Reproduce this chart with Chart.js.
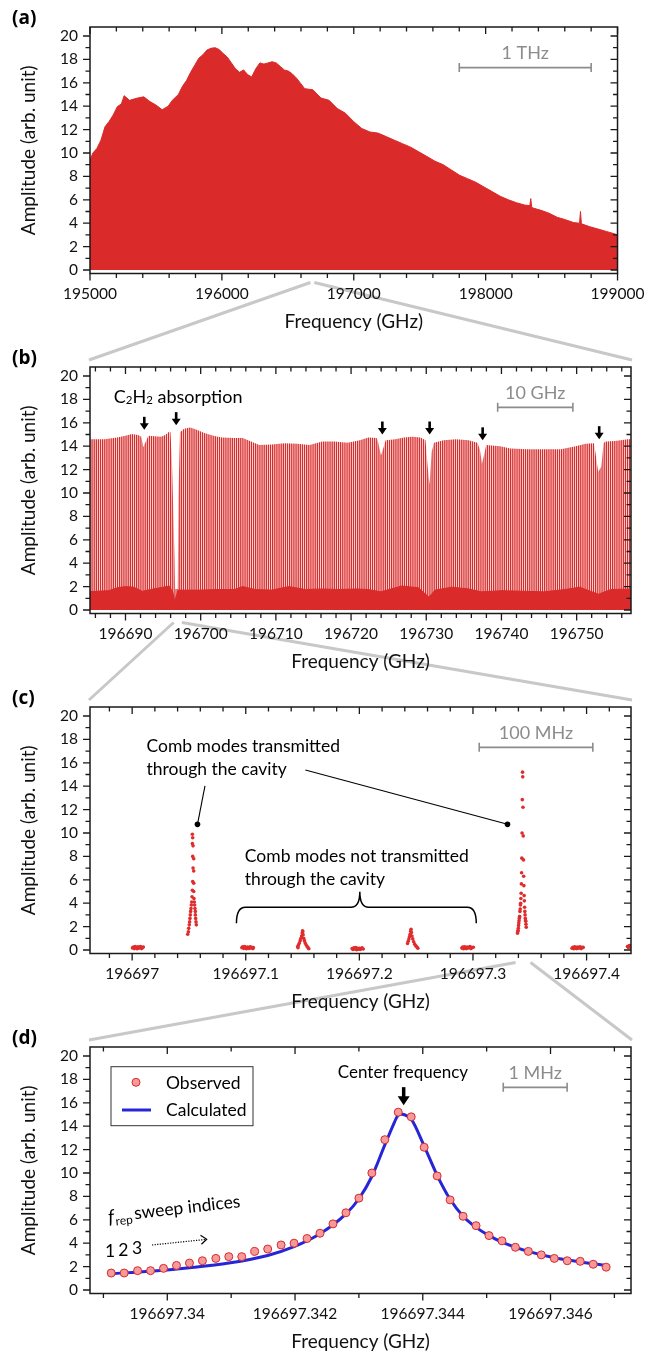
<!DOCTYPE html>
<html>
<head>
<meta charset="utf-8">
<script src="https://cdn.jsdelivr.net/npm/chart.js@4.4.1/dist/chart.umd.min.js"></script>
<style>
  html, body { margin: 0; padding: 0; background: #fff; }
  body { position: relative; width: 656px; height: 1357px; overflow: hidden; }
  canvas { display: block; }
  #links { position: absolute; left: 0; top: 0; }
  .panel { position: absolute; left: 0; width: 656px; height: 340px; }
</style>
</head>
<body>
<canvas id="links" width="656" height="1357"></canvas>
<div class="panel" style="top:0px"><canvas id="chartA" width="656" height="340"></canvas></div>
<div class="panel" style="top:340px"><canvas id="chartB" width="656" height="340"></canvas></div>
<div class="panel" style="top:680px"><canvas id="chartC" width="656" height="340"></canvas></div>
<div class="panel" style="top:1020px"><canvas id="chartD" width="656" height="340"></canvas></div>
<script>
const FONT = "Lato, 'Open Sans', sans-serif";
const BOLD_FONT = "'Open Sans', 'Liberation Sans', sans-serif";
const RED = "#da2a2a";
const GRAY = "#8c8c8c";

// ---- shared y axis
const yTicks = [0, 2, 4, 6, 8, 10, 12, 14, 16, 18, 20];
const yLabels = ["0", "2", "4", "6", "8", "10", "12", "14", "16", "18", "20"];

// ---- (a) full comb spectrum, envelope of the comb lines
const aTicks = [195000, 196000, 197000, 198000, 199000];
const aLabels = ["195000", "196000", "197000", "198000", "199000"];
const aFreq = [195000, 195022, 195053, 195083, 195114, 195145, 195176, 195207, 195238, 195259,
  195300, 195361, 195408, 195454, 195500, 195547, 195593, 195624, 195670, 195701,
  195732, 195763, 195794, 195825, 195856, 195887, 195917, 195948, 195979, 196010,
  196041, 196072, 196103, 196134, 196165, 196195, 196226, 196257, 196288, 196319,
  196350, 196381, 196412, 196443, 196473, 196504, 196535, 196566, 196597, 196628,
  196690, 196751, 196813, 196875, 196937, 196998, 197060, 197122, 197184, 197246,
  197307, 197369, 197431, 197493, 197555, 197616, 197678, 197740, 197802, 197864,
  197925, 197987, 198049, 198111, 198172, 198234, 198296, 198335, 198342, 198349,
  198358, 198420, 198481, 198543, 198605, 198667, 198712, 198719, 198726, 198790,
  198852, 198914, 198975, 199000];
const aAmp = [9.4, 10.0, 10.4, 11.1, 12.25, 12.7, 13.25, 13.96, 14.2, 14.9,
  14.5, 14.7, 14.8, 14.4, 14.1, 13.7, 14.0, 14.5, 15.0, 15.7,
  16.2, 16.9, 17.5, 18.1, 18.4, 18.8, 18.95, 19.0, 18.85, 18.5,
  18.2, 17.7, 17.2, 16.9, 17.1, 16.7, 16.5, 17.2, 17.7, 17.6,
  17.7, 17.8, 17.7, 17.4, 17.1, 17.0, 16.75, 16.4, 15.95, 15.5,
  15.4, 14.7, 14.5, 13.8, 13.4, 12.7, 12.1, 11.8, 11.7, 11.4,
  11.1, 10.8, 10.5, 10.1, 9.7, 9.3, 9.0, 8.55, 8.1, 7.8,
  7.5, 7.1, 6.7, 6.3, 6.0, 5.75, 5.55, 5.5, 6.1, 5.4,
  5.3, 5.1, 4.85, 4.5, 4.3, 4.05, 4.0, 5.0, 3.95, 3.7,
  3.5, 3.3, 3.1, 3.0];

// ---- (b) 72 GHz section: transmitted-mode envelope + untransmitted band
const bTicks = [196690, 196700, 196710, 196720, 196730, 196740, 196750];
const bLabels = ["196690", "196700", "196710", "196720", "196730", "196740", "196750"];
const bFreq = [196685.28, 196687.22, 196688.89, 196690.0, 196690.83, 196691.67, 196692.1, 196692.37, 196692.63, 196693.06,
  196693.9, 196694.73, 196695.29, 196695.84, 196695.98, 196696.18, 196696.52, 196696.6, 196696.95, 196697.05,
  196697.25, 196697.79, 196698.63, 196699.46, 196700.58, 196701.69, 196702.8, 196704.47, 196705.58, 196706.7,
  196707.81, 196709.48, 196711.15, 196712.82, 196714.49, 196716.16, 196717.83, 196719.5, 196721.17, 196722.28,
  196723.4, 196723.62, 196723.98, 196724.28, 196724.6, 196725.9, 196727.01, 196728.13, 196729.24, 196729.9,
  196730.19, 196730.43, 196730.72, 196731.03, 196732.3, 196733.97, 196735.64, 196736.8, 196737.14, 196737.41,
  196737.67, 196737.98, 196739.82, 196741.21, 196743.43, 196745.66, 196747.89, 196749.55, 196751.22, 196752.32,
  196752.87, 196753.27, 196753.6, 196753.9, 196755.12, 196756.79, 196757.23];
const bAmp = [14.6, 14.6, 14.75, 14.9, 15.05, 14.95, 14.8, 13.9, 14.3, 14.9,
  14.85, 14.8, 14.95, 15.25, 15.2, 12.7, 4.5, 1.8, 1.8, 10.0,
  15.2, 15.5, 15.6, 15.4, 15.1, 14.9, 14.75, 14.7, 14.7, 14.4,
  14.1, 14.15, 14.25, 14.2, 14.1, 14.4, 14.4, 14.3, 14.5, 14.75,
  14.7, 14.3, 13.2, 13.8, 14.5, 14.6, 14.75, 14.8, 14.75, 14.5,
  12.25, 10.7, 13.5, 14.3, 14.5, 14.6, 14.5, 14.3, 13.7, 12.5,
  13.2, 14.1, 14.0, 13.8, 13.75, 13.75, 13.75, 13.95, 14.2, 14.25,
  11.8, 12.25, 14.3, 14.4, 14.45, 14.6, 14.6];
const bBandFreq = [196685.28, 196687.77, 196688.89, 196690.0, 196691.11, 196692.23, 196693.34, 196695.01, 196695.84, 196696.3,
  196696.55, 196696.75, 196697.0, 196697.79, 196700.02, 196702.25, 196704.47, 196705.58, 196707.26, 196709.48,
  196711.71, 196713.94, 196716.16, 196718.39, 196720.61, 196722.28, 196723.95, 196726.74, 196728.96, 196730.35,
  196731.19, 196733.42, 196735.64, 196737.31, 196740.1, 196742.88, 196745.66, 196748.44, 196750.39, 196752.9,
  196754.57, 196757.23];
const bBandAmp = [1.57, 1.65, 1.9, 2.0, 1.95, 1.6, 1.75, 1.95, 2.05, 1.5,
  0.7, 1.2, 1.7, 1.7, 1.7, 1.75, 1.75, 2.0, 1.75, 1.7,
  2.0, 1.75, 1.8, 1.75, 1.8, 1.75, 1.55, 2.05, 1.9, 1.1,
  1.7, 1.95, 1.8, 1.55, 1.65, 1.6, 1.55, 1.75, 1.95, 1.35,
  1.75, 1.8];
const bAbsFreq = [196692.5, 196696.74, 196724.16, 196730.45, 196737.5, 196753.0];
const bAbsTip = [15.4, 15.8, 15.0, 15.0, 14.5, 14.6];

// ---- (d) one cavity mode: f_rep sweep points and fitted profile
const dTicks = [196697.34, 196697.342, 196697.344, 196697.346];
const dLabels = ["196697.34", "196697.342", "196697.344", "196697.346"];
const dObsX = [196697.339122, 196697.339325, 196697.339535, 196697.339738, 196697.339941, 196697.340144, 196697.340347, 196697.34055,
  196697.34076, 196697.340963, 196697.341166, 196697.341369, 196697.341572, 196697.341782, 196697.341985, 196697.342188,
  196697.342391, 196697.342594, 196697.342797, 196697.343, 196697.343203, 196697.343406, 196697.343616, 196697.343819,
  196697.344022, 196697.344225, 196697.344428, 196697.344631, 196697.344834, 196697.345037, 196697.34524, 196697.34545,
  196697.345653, 196697.345856, 196697.346059, 196697.346262, 196697.346465, 196697.346668, 196697.346871];
const dObsY = [1.45, 1.45, 1.65, 1.65, 1.85, 2.1, 2.3, 2.5,
  2.7, 2.85, 2.85, 3.3, 3.5, 3.85, 4.0, 4.4,
  4.85, 5.65, 6.6, 7.85, 10.0, 12.85, 15.2, 14.8,
  12.2, 9.75, 7.7, 6.3, 5.5, 4.65, 4.2, 3.65,
  3.3, 3.0, 2.7, 2.5, 2.45, 2.2, 1.95];
const dCalcX = [196697.339122, 196697.339738, 196697.340347, 196697.340963, 196697.341572, 196697.341985, 196697.342391,
  196697.342797, 196697.343, 196697.343203, 196697.343406, 196697.343537, 196697.343603, 196697.343648, 196697.343701,
  196697.343819, 196697.344022, 196697.344225, 196697.344428, 196697.344631, 196697.344834, 196697.345037, 196697.34524,
  196697.345653, 196697.346059, 196697.346465, 196697.346871];
const dCalcY = [1.4, 1.6, 1.9, 2.3, 2.95, 3.7, 4.8,
  6.5, 7.8, 9.7, 12.4, 14.1, 14.85, 15.05, 15.0,
  14.6, 12.3, 9.8, 7.75, 6.3, 5.35, 4.65, 4.1,
  3.3, 2.75, 2.4, 2.1];

// ---- (c) 0.48 GHz section: comb modes (GHz, amplitude)
const cTicks = [196697, 196697.1, 196697.2, 196697.3, 196697.4];
const cLabels = ["196697", "196697.1", "196697.2", "196697.3", "196697.4"];
const cFlat0 = [[196697.0003, 0.18], [196697.0011, 0.26], [196697.0019, 0.12], [196697.0027, 0.3], [196697.0035, 0.2], [196697.0043, 0.1],
  [196697.0051, 0.27], [196697.0059, 0.15], [196697.0067, 0.22], [196697.0075, 0.3], [196697.0083, 0.12], [196697.0091, 0.2], [196697.0098, 0.26]];
const cPeakLow = [[196697.0530, 9.89], [196697.0533, 9.6], [196697.0530, 9.1], [196697.0536, 8.9], [196697.0533, 8.0], [196697.0542, 7.8],
  [196697.0536, 7.0], [196697.0542, 6.75], [196697.0533, 5.85], [196697.0542, 5.7], [196697.0530, 5.1], [196697.0542, 5.0],
  [196697.0527, 4.55], [196697.0544, 4.4], [196697.0524, 4.1], [196697.0521, 3.85], [196697.0518, 3.55], [196697.0515, 3.3],
  [196697.0512, 3.0], [196697.0509, 2.7], [196697.0506, 2.4], [196697.0503, 2.15], [196697.0498, 1.85], [196697.0495, 1.55],
  [196697.0489, 1.35], [196697.0547, 4.1], [196697.0550, 3.85], [196697.0553, 3.55], [196697.0556, 3.3], [196697.0556, 3.0],
  [196697.0559, 2.7], [196697.0562, 2.4], [196697.0565, 2.15]];
const cFlat1 = [[196697.0966, 0.2], [196697.0974, 0.28], [196697.0982, 0.14], [196697.0990, 0.3], [196697.0998, 0.18], [196697.1006, 0.1],
  [196697.1014, 0.26], [196697.1022, 0.2], [196697.1030, 0.13], [196697.1038, 0.28], [196697.1046, 0.18], [196697.1054, 0.24], [196697.1062, 0.12], [196697.1067, 0.2]];
const cSmall0 = [[196697.1457, 0.3], [196697.1465, 0.45], [196697.1472, 0.6], [196697.1479, 0.8], [196697.1486, 1.0], [196697.1492, 1.2],
  [196697.1497, 1.45], [196697.1500, 1.65], [196697.1502, 1.55], [196697.1505, 1.3], [196697.1510, 1.0], [196697.1516, 0.8],
  [196697.1523, 0.6], [196697.1531, 0.45], [196697.1540, 0.3], [196697.1548, 0.2], [196697.1555, 0.1], [196697.1460, 0.2]];
const cFlat2 = [[196697.1936, 0.12], [196697.1944, 0.05], [196697.1952, 0.18], [196697.1960, 0.08], [196697.1968, 0.2], [196697.1976, 0.02],
  [196697.1984, 0.14], [196697.1992, 0.06], [196697.2000, 0.15], [196697.2008, 0.04], [196697.2016, 0.12], [196697.2024, 0.18], [196697.2034, 0.08]];
const cSmall1 = [[196697.2424, 0.55], [196697.2430, 0.75], [196697.2436, 0.95], [196697.2442, 1.15], [196697.2447, 1.35], [196697.2452, 1.6],
  [196697.2455, 1.77], [196697.2458, 1.5], [196697.2463, 1.2], [196697.2470, 0.95], [196697.2478, 0.7], [196697.2487, 0.5],
  [196697.2497, 0.35], [196697.2507, 0.25], [196697.2515, 0.15]];
const cFlat3 = [[196697.2902, 0.16], [196697.2910, 0.25], [196697.2918, 0.1], [196697.2926, 0.28], [196697.2934, 0.2], [196697.2942, 0.12],
  [196697.2950, 0.26], [196697.2958, 0.17], [196697.2966, 0.22], [196697.2974, 0.3], [196697.2982, 0.12], [196697.2990, 0.2], [196697.3003, 0.24]];
const cFlat4 = [[196697.3872, 0.15], [196697.3880, 0.24], [196697.3888, 0.1], [196697.3896, 0.27], [196697.3904, 0.18], [196697.3912, 0.12],
  [196697.3920, 0.25], [196697.3928, 0.15], [196697.3936, 0.22], [196697.3944, 0.28], [196697.3952, 0.12], [196697.3960, 0.2], [196697.3970, 0.22]];
const cFlat5 = [[196697.4360, 0.3], [196697.4368, 0.22], [196697.4376, 0.38], [196697.4384, 0.25], [196697.4392, 0.35], [196697.4400, 0.3]];

// where the grey zoom lines leave each parent axis (GHz)
const linkAB = [196671, 196701];
const linkBC = [196696.4, 196697.5];
const linkCD = [196697.3375, 196697.3507];

// ---------- helpers
const X = (c, v) => c.scales.x.getPixelForValue(v);
const Y = (c, v) => c.scales.y.getPixelForValue(v);
const pts = (xs, ys) => xs.map((x, i) => ({ x: x, y: ys[i] }));
const pairs = (arr) => arr.map((p) => ({ x: p[0], y: p[1] }));

function txt(ctx, s, x, y, size, color, align, style, family) {
  ctx.font = (style || "") + " " + size + "px " + (family || FONT);
  ctx.fillStyle = color;
  ctx.textAlign = align || "left";
  ctx.textBaseline = "middle";
  ctx.fillText(s, x, y);
  return ctx.measureText(s).width;
}

function scaleBar(c, x0, x1, yBar, label, yLabel) {
  const ctx = c.ctx;
  const p0 = X(c, x0), p1 = X(c, x1), py = Y(c, yBar);
  ctx.save();
  ctx.strokeStyle = GRAY;
  ctx.lineWidth = 1.6;
  ctx.beginPath();
  ctx.moveTo(p0, py); ctx.lineTo(p1, py);
  ctx.moveTo(p0, py - 4.5); ctx.lineTo(p0, py + 4.5);
  ctx.moveTo(p1, py - 4.5); ctx.lineTo(p1, py + 4.5);
  ctx.stroke();
  txt(ctx, label, (p0 + p1) / 2, Y(c, yLabel), 18, GRAY, "center");
  ctx.restore();
}

function downArrow(ctx, x, yTip, len, headW, headH, shaft) {
  ctx.fillStyle = "#000";
  ctx.fillRect(x - shaft / 2, yTip - len, shaft, len - headH + 1);
  ctx.beginPath();
  ctx.moveTo(x - headW / 2, yTip - headH);
  ctx.lineTo(x + headW / 2, yTip - headH);
  ctx.lineTo(x, yTip);
  ctx.closePath();
  ctx.fill();
}

function panelLabel(c, s) {
  txt(c.ctx, s, 12, 19, 19, "#000", "left", "bold", BOLD_FONT);
}

// frame + Origin style ticks (out on bottom/left, mirrored in on top/right)
function framePlugin(majorX, minorStepX) {
  return {
    id: "frame",
    afterDatasetsDraw(chart) {
      const { ctx, chartArea: a } = chart;
      const sx = chart.scales.x, sy = chart.scales.y;
      ctx.save();
      ctx.strokeStyle = "#1a1a1a";
      ctx.lineWidth = 1.5;
      ctx.strokeRect(a.left, a.top, a.right - a.left, a.bottom - a.top);
      ctx.lineWidth = 1.3;
      ctx.beginPath();
      const isMajor = (v, list, step) => list.some((m) => Math.abs(m - v) < step / 10);
      const k0 = Math.ceil(sx.min / minorStepX - 1e-6), k1 = Math.floor(sx.max / minorStepX + 1e-6);
      for (let k = k0; k <= k1; k++) {
        const v = k * minorStepX;
        const p = sx.getPixelForValue(v);
        const len = isMajor(v, majorX, minorStepX) ? 7 : 4.5;
        ctx.moveTo(p, a.bottom); ctx.lineTo(p, a.bottom + len);
        ctx.moveTo(p, a.top); ctx.lineTo(p, a.top + len);
      }
      for (let k = 0; k <= 20; k++) {
        const p = sy.getPixelForValue(k);
        const len = k % 2 === 0 ? 7 : 4.5;
        ctx.moveTo(a.left, p); ctx.lineTo(a.left - len, p);
        ctx.moveTo(a.right, p); ctx.lineTo(a.right - len, p);
      }
      ctx.stroke();
      ctx.restore();
    }
  };
}

function makeOptions(xMin, xMax, xTicks, xLabels) {
  return {
    responsive: false,
    animation: false,
    devicePixelRatio: 1,
    events: [],
    layout: { autoPadding: false, padding: { left: 0, right: 25, top: 27, bottom: 0 } },
    plugins: { legend: { display: false }, tooltip: { enabled: false } },
    scales: {
      x: {
        type: "linear",
        min: xMin,
        max: xMax,
        afterBuildTicks: (s) => { s.ticks = xTicks.map((v) => ({ value: v })); },
        afterFit: (s) => { s.height = 66.5; },
        grid: { display: false, drawTicks: false },
        border: { display: false },
        ticks: {
          callback: (v, i) => xLabels[i],
          autoSkip: false, maxRotation: 0, padding: 11.5,
          color: "#111", font: { family: FONT, size: 15.5 }
        },
        title: {
          display: true, text: "Frequency (GHz)", color: "#111",
          font: { family: FONT, size: 19 }, padding: { top: 0, bottom: 6.5 }
        }
      },
      y: {
        type: "linear",
        min: -0.3,
        max: 20.77,
        afterBuildTicks: (s) => { s.ticks = yTicks.map((v) => ({ value: v })); },
        afterFit: (s) => { s.width = 90; },
        grid: { display: false, drawTicks: false },
        border: { display: false },
        ticks: {
          callback: (v, i) => yLabels[i],
          padding: 12, color: "#111", font: { family: FONT, size: 15.5 }
        },
        title: {
          display: true, text: "Amplitude (arb. unit)", color: "#111",
          font: { family: FONT, size: 19 }, padding: { top: 17.5, bottom: 0 }
        }
      }
    }
  };
}

// ---------- (a)
const chartA = new Chart(document.getElementById("chartA"), {
  type: "line",
  data: {
    datasets: [{
      data: pts(aFreq, aAmp),
      borderColor: RED, backgroundColor: RED, borderWidth: 1,
      fill: "origin", pointRadius: 0, tension: 0
    }]
  },
  options: makeOptions(195000, 199000, aTicks, aLabels),
  plugins: [framePlugin(aTicks, 200), {
    id: "notesA",
    afterDraw(c) {
      panelLabel(c, "(a)");
      scaleBar(c, 197800, 198800, 17.3, "1 THz", 18.57);
    }
  }]
});

// ---------- (b)
const ctxB = document.getElementById("chartB").getContext("2d");
const stripeTile = document.createElement("canvas");
stripeTile.width = 17; stripeTile.height = 8;
const stg = stripeTile.getContext("2d");
stg.fillStyle = RED;
for (let i = 0; i < 8; i++) stg.fillRect(i * 2.125, 0, 1.35, 8);
const stripes = ctxB.createPattern(stripeTile, "repeat");

const chartB = new Chart(ctxB, {
  type: "line",
  data: {
    datasets: [
      { data: pts(bBandFreq, bBandAmp), borderColor: RED, backgroundColor: RED, borderWidth: 1, fill: "origin", pointRadius: 0, tension: 0, order: 1 },
      { data: pts(bFreq, bAmp), borderWidth: 0, borderColor: "rgba(0,0,0,0)", backgroundColor: stripes, fill: "origin", pointRadius: 0, tension: 0, order: 2 }
    ]
  },
  options: makeOptions(196685.28, 196757.23, bTicks, bLabels),
  plugins: [framePlugin(bTicks, 2), {
    id: "notesB",
    afterDraw(c) {
      const ctx = c.ctx;
      panelLabel(c, "(b)");
      // C2H2 absorption
      let x = X(c, 196688.45);
      const y = Y(c, 18.23);
      x += txt(ctx, "C", x, y, 18, "#000");
      x += txt(ctx, "2", x, y + 4, 11.5, "#000");
      x += txt(ctx, "H", x, y, 18, "#000");
      x += txt(ctx, "2", x, y + 4, 11.5, "#000");
      txt(ctx, " absorption", x, y, 18, "#000");
      bAbsFreq.forEach((f, i) => downArrow(ctx, X(c, f), Y(c, bAbsTip[i]), 13, 9, 6.5, 2.6));
      scaleBar(c, 196739.5, 196749.5, 17.32, "10 GHz", 18.57);
    }
  }]
});

// ---------- (c)
const cAll = [].concat(pairs(cFlat0), pairs(cPeakLow), pairs(cFlat1), pairs(cSmall0), pairs(cFlat2),
  pairs(cSmall1), pairs(cFlat3), pts(dObsX, dObsY), pairs(cFlat4), pairs(cFlat5));
const chartC = new Chart(document.getElementById("chartC"), {
  type: "scatter",
  data: {
    datasets: [{ data: cAll, pointRadius: 1.8, backgroundColor: "#e02c2c", borderWidth: 0 }]
  },
  options: makeOptions(196696.9629, 196697.4391, cTicks, cLabels),
  plugins: [framePlugin(cTicks, 0.02), {
    id: "notesC",
    afterDraw(c) {
      const ctx = c.ctx;
      panelLabel(c, "(c)");
      scaleBar(c, 196697.3055, 196697.4055, 17.32, "100 MHz", 18.57);
      txt(ctx, "Comb modes transmitted", X(c, 196697.0126), Y(c, 17.44), 17.5, "#000");
      txt(ctx, "through the cavity", X(c, 196697.0126), Y(c, 15.47), 17.5, "#000");
      txt(ctx, "Comb modes not transmitted", X(c, 196697.0992), Y(c, 7.97), 17.5, "#000");
      txt(ctx, "through the cavity", X(c, 196697.0992), Y(c, 6.07), 17.5, "#000");
      ctx.save();
      ctx.strokeStyle = "#000";
      ctx.fillStyle = "#000";
      ctx.lineWidth = 1.1;
      const dots = [[196697.0641, 14.02, 196697.0575, 10.74], [196697.1525, 15.38, 196697.3304, 10.74]];
      dots.forEach((d) => {
        ctx.beginPath();
        ctx.moveTo(X(c, d[0]), Y(c, d[1]));
        ctx.lineTo(X(c, d[2]), Y(c, d[3]));
        ctx.stroke();
        ctx.beginPath();
        ctx.arc(X(c, d[2]), Y(c, d[3]), 2.8, 0, Math.PI * 2);
        ctx.fill();
      });
      // brace over the untransmitted modes
      const xl = X(c, 196697.0918), xr = X(c, 196697.3029), xm = X(c, 196697.2004);
      const yb = Y(c, 2.28), yh = Y(c, 3.65), yt = Y(c, 4.98);
      ctx.lineWidth = 1.5;
      ctx.beginPath();
      ctx.moveTo(xl, yb);
      ctx.quadraticCurveTo(xl, yh, xl + 9, yh);
      ctx.lineTo(xm - 9, yh);
      ctx.quadraticCurveTo(xm, yh, xm, yt);
      ctx.quadraticCurveTo(xm, yh, xm + 9, yh);
      ctx.lineTo(xr - 9, yh);
      ctx.quadraticCurveTo(xr, yh, xr, yb);
      ctx.stroke();
      ctx.restore();
    }
  }]
});

// ---------- (d)
const chartD = new Chart(document.getElementById("chartD"), {
  type: "line",
  data: {
    datasets: [
      {
        label: "Observed", data: pts(dObsX, dObsY), showLine: false,
        pointRadius: 4, pointBackgroundColor: "#f59a9a", pointBorderColor: "#d82a2a", pointBorderWidth: 1, order: 1
      },
      {
        label: "Calculated", data: pts(dCalcX, dCalcY), borderColor: "#2626d6", borderWidth: 3,
        pointRadius: 0, cubicInterpolationMode: "monotone", fill: false, order: 2
      }
    ]
  },
  options: makeOptions(196697.33879, 196697.34726, dTicks, dLabels),
  plugins: [framePlugin(dTicks, 0.001), {
    id: "notesD",
    afterDraw(c) {
      const ctx = c.ctx;
      panelLabel(c, "(d)");
      scaleBar(c, 196697.34526, 196697.34626, 17.32, "1 MHz", 18.57);
      txt(ctx, "Center frequency", X(c, 196697.343689), Y(c, 18.57), 17, "#000", "center");
      downArrow(ctx, X(c, 196697.343701), Y(c, 15.8), 18, 12, 9, 3.5);
      // legend box
      ctx.save();
      ctx.strokeStyle = "#333";
      ctx.lineWidth = 1;
      ctx.strokeRect(111, 46.7, 142, 59);
      ctx.beginPath();
      ctx.arc(136, 62.3, 4, 0, Math.PI * 2);
      ctx.fillStyle = "#f59a9a";
      ctx.fill();
      ctx.strokeStyle = "#d82a2a";
      ctx.stroke();
      ctx.strokeStyle = "#2626d6";
      ctx.lineWidth = 3;
      ctx.beginPath();
      ctx.moveTo(122, 90); ctx.lineTo(151, 90);
      ctx.stroke();
      ctx.restore();
      txt(ctx, "Observed", 166, 63.3, 17.5, "#000");
      txt(ctx, "Calculated", 166, 90, 17.5, "#000");
      // f_rep sweep indices
      ctx.save();
      ctx.translate(108, 197.5);
      ctx.rotate(-6.5 * Math.PI / 180);
      let x = 0;
      x += txt(ctx, "f", 0, 0, 19, "#000", "left", "italic");
      x += txt(ctx, "rep", x + 1, 5, 12, "#000") + 3;
      txt(ctx, "sweep indices", x, -1, 17.5, "#000");
      ctx.restore();
      txt(ctx, "1", 110, 231.7, 17.5, "#000", "center");
      txt(ctx, "2", 123.4, 230, 17.5, "#000", "center");
      txt(ctx, "3", 137, 228.3, 17.5, "#000", "center");
      ctx.save();
      ctx.strokeStyle = "#000";
      ctx.lineWidth = 1.2;
      ctx.setLineDash([1.2, 1.4]);
      ctx.beginPath();
      ctx.moveTo(152, 225); ctx.lineTo(206, 219.4);
      ctx.stroke();
      ctx.setLineDash([]);
      ctx.beginPath();
      ctx.moveTo(200.5, 215.2); ctx.lineTo(206.7, 219.3); ctx.lineTo(201.4, 224.2);
      ctx.stroke();
      ctx.restore();
    }
  }]
});

// ---------- grey zoom connectors between panels
(function drawLinks() {
  const g = document.getElementById("links").getContext("2d");
  g.strokeStyle = "#c8c8c8";
  g.lineWidth = 3;
  const chain = [[chartA, 0, chartB, 340, linkAB], [chartB, 340, chartC, 680, linkBC], [chartC, 680, chartD, 1020, linkCD]];
  chain.forEach(([p, pTop, c, cTop, anchors]) => {
    const yStart = pTop + p.chartArea.bottom + 9;
    const yEnd = cTop + c.chartArea.top - 7;
    g.beginPath();
    g.moveTo(X(p, anchors[0]), yStart); g.lineTo(c.chartArea.left - 1, yEnd);
    g.moveTo(X(p, anchors[1]), yStart); g.lineTo(c.chartArea.right + 1, yEnd);
    g.stroke();
  });
})();
</script>
</body>
</html>
